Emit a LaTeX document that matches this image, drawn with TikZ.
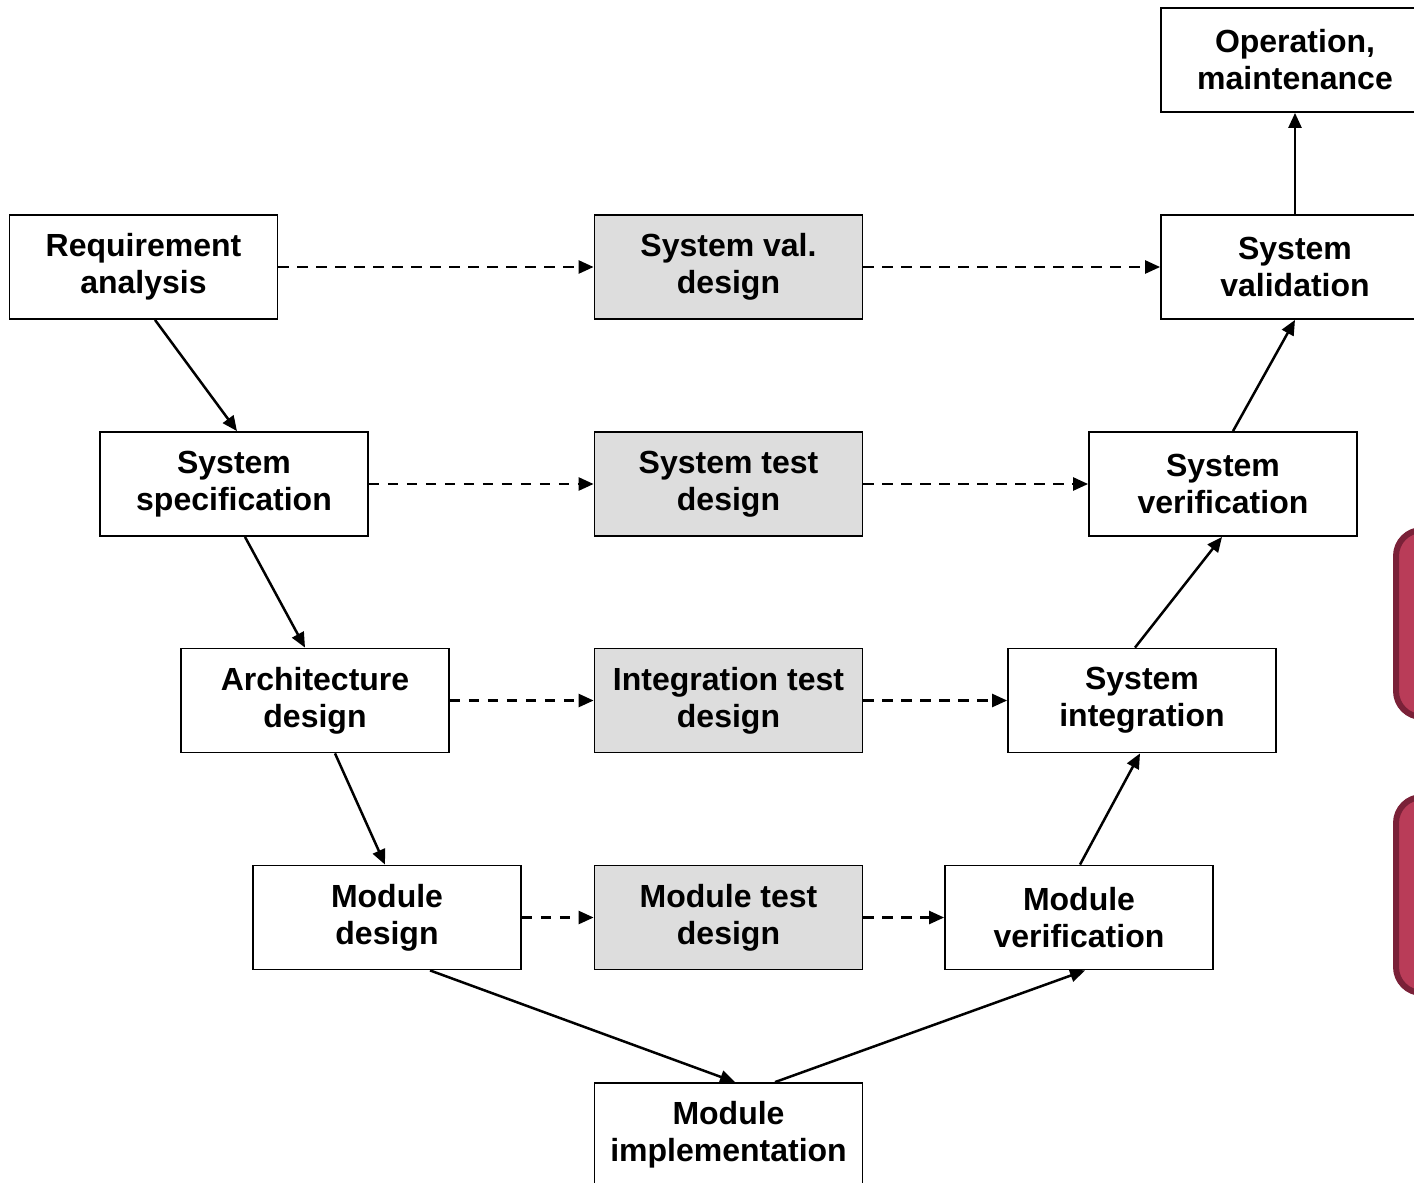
\documentclass[tikz,border=0pt]{standalone}
\usepackage{fontspec}
\setmainfont{Liberation Sans}
\usetikzlibrary{arrows.meta,calc,shadows}
\definecolor{testgray}{RGB}{221,221,221}
\definecolor{tabred}{RGB}{185,60,88}
\definecolor{tabredborder}{RGB}{122,33,56}
\tikzset{
    >={Triangle[length=7.5pt,width=6.5pt]},
    phase/.style={
        draw,
        line width=0.9pt,
        fill=white,
        minimum width=134pt,
        minimum height=52pt,
        inner sep=0pt,
        align=center,
        font=\fontsize{16}{18.5}\selectfont\bfseries
    },
    testdesign/.style={phase, fill=testgray},
    flow/.style={->, line width=1.25pt},
    trace/.style={->, line width=1.25pt, dash pattern=on 5.2pt off 4.3pt},
    sidetab/.style={
        draw=tabredborder,
        fill=tabred,
        line width=3pt,
        rounded corners=13pt,
        drop shadow={shadow xshift=1.5pt, shadow yshift=-1.5pt, opacity=0.35}
    },
}
\begin{document}
\begin{tikzpicture}[x=0.5pt, y=-0.5pt]
    \useasboundingbox (0, 0) rectangle (1414, 1183);
    \clip (0, 0) rectangle (1414, 1183);

    % Red tabs at the right edge, cut off by the page
    \path[sidetab] (1396, 530) rectangle (1470, 717);
    \path[sidetab] (1396, 797) rectangle (1470, 993);

    % Left branch of the V
    \node[phase] (req) at (143.5, 267) {Requirement\\analysis};
    \node[phase] (spec) at (234, 484) {System\\specification};
    \node[phase] (arch) at (315, 700.5) {Architecture\\design};
    \node[phase] (moddes) at (387, 917.5) {Module\\design};

    % Bottom
    \node[phase] (impl) at (728.5, 1135) {Module\\implementation};

    % Test designs in the middle
    \node[testdesign] (sysval) at (728.5, 267) {System val.\\design};
    \node[testdesign] (systest) at (728.5, 484) {System test\\design};
    \node[testdesign] (inttest) at (728.5, 700.5) {Integration test\\design};
    \node[testdesign] (modtest) at (728.5, 917.5) {Module test\\design};

    % Right branch of the V
    \node[phase] (modver) at (1079, 917.5) {Module\\verification};
    \node[phase] (integ) at (1142, 700.5) {System\\integration};
    \node[phase] (verif) at (1223, 484) {System\\verification};
    \node[phase] (valid) at (1295, 267) {System\\validation};
    \node[phase] (oper) at (1295, 60) {Operation,\\maintenance};

    % Going down
    \draw[flow] ($(req.south) + (11.5, 0)$) -- ($(spec.north) + (3, 0)$);
    \draw[flow] ($(spec.south) + (11, 0)$) -- ($(arch.north) + (-10, 0)$);
    \draw[flow] ($(arch.south) + (20, 0)$) -- ($(moddes.north) + (-2, 0)$);
    \draw[flow] ($(moddes.south) + (43, 0)$) -- ($(impl.north) + (6.5, 0)$);

    % Going up
    \draw[flow] ($(impl.north) + (46.5, 0)$) -- ($(modver.south) + (6, 0)$);
    \draw[flow] ($(modver.north) + (1, 0)$) -- ($(integ.south) + (-2, 0)$);
    \draw[flow] ($(integ.north) + (-7, 0)$) -- ($(verif.south) + (-1, 0)$);
    \draw[flow] ($(verif.north) + (10, 0)$) -- (valid.south);
    \draw[flow] (valid.north) -- (oper.south);

    % Dashed links through the test designs
    \draw[trace] (req.east) -- (sysval.west);
    \draw[trace] (sysval.east) -- (valid.west);
    \draw[trace] (spec.east) -- (systest.west);
    \draw[trace] (systest.east) -- (verif.west);
    \draw[trace] (arch.east) -- (inttest.west);
    \draw[trace] (inttest.east) -- (integ.west);
    \draw[trace] (moddes.east) -- (modtest.west);
    \draw[trace] (modtest.east) -- (modver.west);
\end{tikzpicture}
\end{document}
